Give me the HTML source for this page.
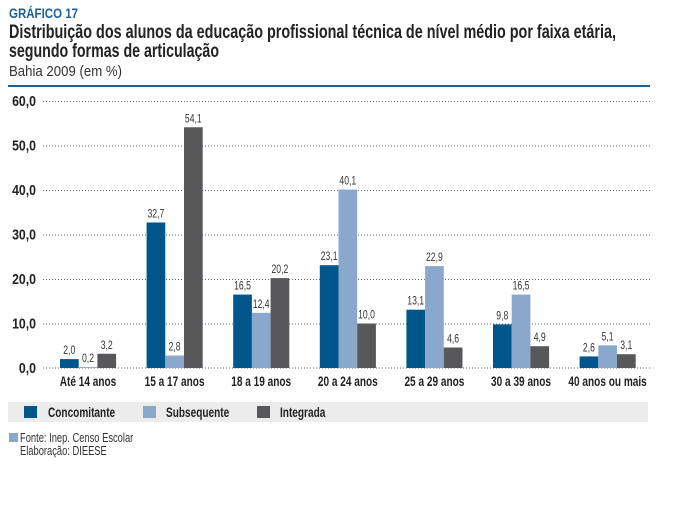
<!DOCTYPE html><html><head><meta charset="utf-8"><style>
body{margin:0;background:#fff;width:700px;height:503px;overflow:hidden}
text{font-family:"Liberation Sans Narrow","Liberation Sans",sans-serif}
</style></head><body>
<svg id="s" width="700" height="503" xmlns="http://www.w3.org/2000/svg">
<text x="9" y="18" font-size="14" font-weight="bold" fill="#1f5f96" textLength="69" lengthAdjust="spacingAndGlyphs">GRÁFICO 17</text>
<text x="9" y="38" font-size="19" font-weight="bold" fill="#222" textLength="607" lengthAdjust="spacingAndGlyphs">Distribuição dos alunos da educação profissional técnica de nível médio por faixa etária,</text>
<text x="9" y="57" font-size="19" font-weight="bold" fill="#222" textLength="210" lengthAdjust="spacingAndGlyphs">segundo formas de articulação</text>
<text x="9" y="76" font-size="15" fill="#333" textLength="113" lengthAdjust="spacingAndGlyphs">Bahia 2009 (em %)</text>
<rect x="8" y="85" width="642" height="2" fill="#1f5f96"/>
<g stroke="#666" stroke-dasharray="1,2" stroke-width="1">
<line x1="43" x2="650" y1="101.5" y2="101.5"/><line x1="43" x2="650" y1="146" y2="146"/><line x1="43" x2="650" y1="190.5" y2="190.5"/><line x1="43" x2="650" y1="235" y2="235"/><line x1="43" x2="650" y1="279.5" y2="279.5"/><line x1="43" x2="650" y1="324" y2="324"/><line x1="43" x2="650" y1="368" y2="368"/>
</g>
<rect x="8" y="402" width="640" height="20" fill="#ececec"/>
<rect x="24" y="406" width="13" height="12" fill="#00558a"/>
<rect x="143" y="406" width="13" height="12" fill="#8aa8cc"/>
<rect x="257" y="406" width="13" height="12" fill="#58585a"/>
<rect x="9" y="433" width="9" height="9" fill="#8aa8cc"/>
<g id="bars"></g>
</svg>
<script>
var s="";
function t(x,y,str,sz,w,a,f,k){k=k||0.78;s+='<text transform="translate('+x+','+y+') scale('+k+',1)" font-size="'+sz+'" font-weight="'+(w?'bold':'normal')+'" text-anchor="'+a+'" fill="'+f+'">'+str+'</text>';}
["60,0","50,0","40,0","30,0","20,0","10,0","0,0"].forEach(function(v,i){t(36,106+i*44.5,v,15,1,"end","#222",0.82);});
var d=[[2.0,0.2,3.2],[32.7,2.8,54.1],[16.5,12.4,20.2],[23.1,40.1,10.0],[13.1,22.9,4.6],[9.8,16.5,4.9],[2.6,5.1,3.1]];
var L=["Até 14 anos","15 a 17 anos","18 a 19 anos","20 a 24 anos","25 a 29 anos","30 a 39 anos","40 anos ou mais"];
var c=["#00558a","#8aa8cc","#58585a"];
d.forEach(function(r,i){var x0=60+i*86.6;r.forEach(function(v,j){var h=v*4.45,x=x0+j*18.7,y=368-h;
s+='<rect x="'+x+'" y="'+y+'" width="18.7" height="'+h+'" fill="'+c[j]+'"/>';
t(x+9.3,y-5,v.toFixed(1).replace(".",","),12,0,"middle","#333",0.72);});
t(x0+28,386,L[i],14,1,"middle","#222",0.72);});
t(48,417,"Concomitante",14,1,"start","#222",0.72);
t(166,417,"Subsequente",14,1,"start","#222",0.72);
t(280,417,"Integrada",14,1,"start","#222",0.72);
t(20,442,"Fonte: Inep. Censo Escolar",13,0,"start","#333",0.72);
t(20,455,"Elaboração: DIEESE",13,0,"start","#333",0.72);
document.getElementById("bars").innerHTML=s;
</script>
</body></html>
